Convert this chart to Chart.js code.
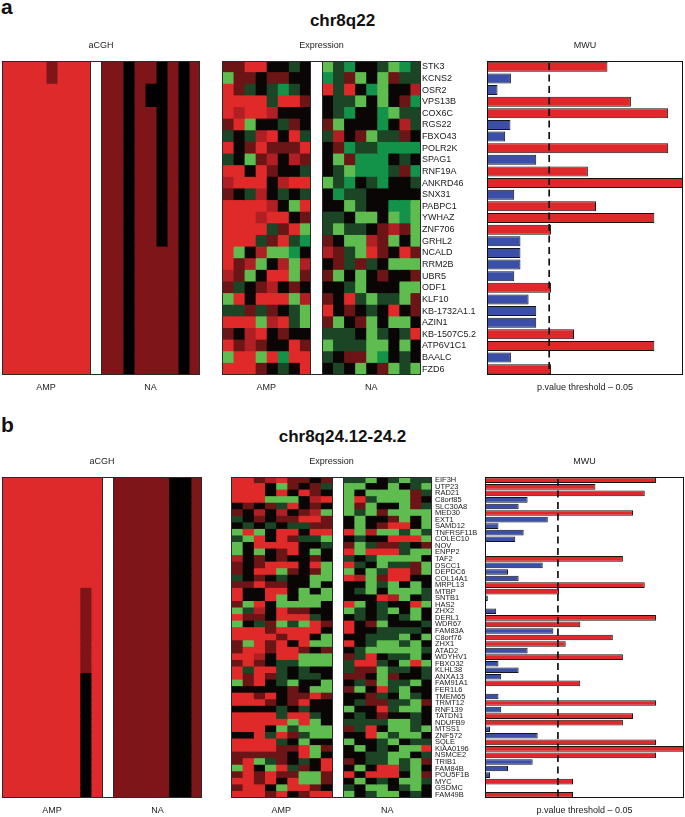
<!DOCTYPE html>
<html>
<head>
<meta charset="utf-8">
<script src="https://cdn.jsdelivr.net/npm/chart.js@4.4.1/dist/chart.umd.min.js"></script>
<style>
    body { margin: 0; background: #fff; font-family: "Liberation Sans", Arial, sans-serif; }
    #page { position: relative; width: 685px; height: 817px; overflow: hidden; }
    canvas, .txt { position: absolute; }
    .letter { font-weight: bold; font-size: 21px; line-height: 21px; color: #111; }
    .title { left: 0; width: 685px; text-align: center; font-weight: bold; font-size: 17px; line-height: 17px; color: #111; }
</style>
</head>
<body>
<div id="page">
    <div class="txt letter" style="left:1px; top:-4px;">a</div>
    <div class="txt title" style="top:12px;">chr8q22</div>
    <canvas id="cghA"></canvas>
    <canvas id="exprA"></canvas>
    <canvas id="mwuA"></canvas>

    <div class="txt letter" style="left:1px; top:414px;">b</div>
    <div class="txt title" style="top:428px;">chr8q24.12-24.2</div>
    <canvas id="cghB"></canvas>
    <canvas id="exprB"></canvas>
    <canvas id="mwuB"></canvas>
</div>

<script>
// ---------------- data ----------------
const groups = ['AMP', 'NA'];
const pThreshold = 0.05;

// panel a : chr8q22
const genesA = ['STK3', 'KCNS2', 'OSR2', 'VPS13B', 'COX6C', 'RGS22', 'FBXO43', 'POLR2K', 'SPAG1',
    'RNF19A', 'ANKRD46', 'SNX31', 'PABPC1', 'YWHAZ', 'ZNF706', 'GRHL2', 'NCALD', 'RRM2B', 'UBR5',
    'ODF1', 'KLF10', 'KB-1732A1.1', 'AZIN1', 'KB-1507C5.2', 'ATP6V1C1', 'BAALC', 'FZD6'];

// -log10(p) of the MWU test, one per gene
const mwuA = [2.52, 0.50, 0.22, 3.01, 3.79, 0.49, 0.38, 3.79, 1.03, 2.11, 4.10, 0.57, 2.28, 3.50,
    1.34, 0.70, 0.70, 0.70, 0.57, 1.34, 0.87, 1.03, 1.03, 1.82, 3.50, 0.50, 1.34];

// aCGH calls per sample (AMP samples | NA samples): R = amplified, d = gain, k = neutral
const cghA = [
    'RRRRdRRR|ddkddkdkd', 'RRRRdRRR|ddkddkdkd', 'RRRRRRRR|ddkdkkdkd', 'RRRRRRRR|ddkdkkdkd',
    'RRRRRRRR|ddkddkdkd', 'RRRRRRRR|ddkddkdkd', 'RRRRRRRR|ddkddkdkd', 'RRRRRRRR|ddkddkdkd',
    'RRRRRRRR|ddkddkdkd', 'RRRRRRRR|ddkddkdkd', 'RRRRRRRR|ddkddkdkd', 'RRRRRRRR|ddkddkdkd',
    'RRRRRRRR|ddkddkdkd', 'RRRRRRRR|ddkddkdkd', 'RRRRRRRR|ddkddkdkd', 'RRRRRRRR|ddkddkdkd',
    'RRRRRRRR|ddkddddkd', 'RRRRRRRR|ddkddddkd', 'RRRRRRRR|ddkddddkd', 'RRRRRRRR|ddkddddkd',
    'RRRRRRRR|ddkddddkd', 'RRRRRRRR|ddkddddkd', 'RRRRRRRR|ddkddddkd', 'RRRRRRRR|ddkddddkd',
    'RRRRRRRR|ddkddddkd', 'RRRRRRRR|ddkddddkd', 'RRRRRRRR|ddkddddkd'
];

// expression level per sample: R r d (up) k (0) e g G (down)
const exprA = [
    'ddRRkkek|GegkkeGge', 'Gddkddkk|gedGkGdee', 'Rdekegek|ReRkgGkkr', 'RRRReRRd|keeGkGkdg',
    'RrRRrkkk|kegkkgGee', 'dRGkkedk|dGkkkgkre', 'ekerRkRe|erkdGeedk', 'RkdRdddR|kdgeegggg',
    'ekGdrkrd|kGdgggkek', 'RRkRdkke|keGgggedg', 'rRRRkrRR|Gegkegkke', 'dkerkeke|kgeekkkkk',
    'RRRRrkGR|kkGekkggG', 'RRRrRRkd|eekGGkGgG', 'RRRRedRG|eGeekdrdG', 'RRRedReg|dkGGrdGkG',
    'RGkrGGgk|rdeGRdkRd', 'RdrGkrGr|kdedekGGG', 'rdGkRRGd|dGkGkdkkd', 'dekdrkdk|kkeGkkkGG',
    'GRkRRRGr|dkReGeeGd', 'eededkeG|RkdkekRkd', 'RRRGrReG|dGkdGkGGk', 'dkrRkdkk|eeekGekeR',
    'RdrdkkRd|GeeeGGkGk', 'GRRGRgRR|ekddGgkek', 'RRRdkekR|kekGkdGeG'
];

// panel b : chr8q24.12-24.2
const genesB = ['EIF3H', 'UTP23', 'RAD21', 'C8orf85', 'SLC30A8', 'MED30', 'EXT1', 'SAMD12', 'TNFRSF11B',
    'COLEC10', 'NOV', 'ENPP2', 'TAF2', 'DSCC1', 'DEPDC6', 'COL14A1', 'MRPL13', 'MTBP', 'SNTB1', 'HAS2',
    'ZHX2', 'DERL1', 'WDR67', 'FAM83A', 'C8orf76', 'ZHX1', 'ATAD2', 'WDYHV1', 'FBXO32', 'KLHL38',
    'ANXA13', 'FAM91A1', 'FER1L6', 'TMEM65', 'TRMT12', 'RNF139', 'TATDN1', 'NDUFB9', 'MTSS1', 'ZNF572',
    'SQLE', 'KIAA0196', 'NSMCE2', 'TRIB1', 'FAM84B', 'POU5F1B', 'MYC', 'GSDMC', 'FAM49B'];

const mwuB = [3.05, 1.97, 2.85, 0.76, 0.60, 2.64, 1.12, 0.24, 0.69, 0.54, 0.02, 0.02, 2.46, 1.03,
    0.41, 0.60, 2.85, 1.32, 0.05, 0.02, 0.20, 3.05, 1.70, 1.22, 2.28, 1.44, 0.76, 2.46, 0.24, 0.60,
    0.29, 1.70, 0.02, 0.24, 3.05, 0.29, 2.64, 2.46, 0.09, 0.94, 3.05, 3.55, 3.05, 0.85, 0.41, 0.09,
    1.57, 0, 1.57];

const cghB = [
    'RRRRRRRRR|dddddkkd', 'RRRRRRRRR|dddddkkd', 'RRRRRRRRR|dddddkkd', 'RRRRRRRRR|dddddkkd',
    'RRRRRRRRR|dddddkkd', 'RRRRRRRRR|dddddkkd', 'RRRRRRRRR|dddddkkd', 'RRRRRRRRR|dddddkkd',
    'RRRRRRRRR|dddddkkd', 'RRRRRRRRR|dddddkkd', 'RRRRRRRRR|dddddkkd', 'RRRRRRRRR|dddddkkd',
    'RRRRRRRRR|dddddkkd', 'RRRRRRRRR|dddddkkd', 'RRRRRRRRR|dddddkkd', 'RRRRRRRRR|dddddkkd',
    'RRRRRRRRR|dddddkkd', 'RRRRRRRdR|dddddkkd', 'RRRRRRRdR|dddddkkd', 'RRRRRRRdR|dddddkkd',
    'RRRRRRRdR|dddddkkd', 'RRRRRRRdR|dddddkkd', 'RRRRRRRdR|dddddkkd', 'RRRRRRRdR|dddddkkd',
    'RRRRRRRdR|dddddkkd', 'RRRRRRRdR|dddddkkd', 'RRRRRRRdR|dddddkkd', 'RRRRRRRdR|dddddkkd',
    'RRRRRRRdR|dddddkkd', 'RRRRRRRdR|dddddkkd', 'RRRRRRRkR|dddddkkd', 'RRRRRRRkR|dddddkkd',
    'RRRRRRRkR|dddddkkd', 'RRRRRRRkR|dddddkkd', 'RRRRRRRkR|dddddkkd', 'RRRRRRRkR|dddddkkd',
    'RRRRRRRkR|dddddkkd', 'RRRRRRRkR|dddddkkd', 'RRRRRRRkR|dddddkkd', 'RRRRRRRkR|dddddkkd',
    'RRRRRRRkR|dddddkkd', 'RRRRRRRkR|dddddkkd', 'RRRRRRRkR|dddddkkd', 'RRRRRRRkR|dddddkkd',
    'RRRRRRRkR|dddddkkd', 'RRRRRRRkR|dddddkkd', 'RRRRRRRkR|dddddkkd', 'RRRRRRRkR|dddddkkd',
    'RRRRRRRkR|dddddkkd'
];

const exprB = [
    'RRdrRddkd|eeGkeGee', 'RRRkGdkde|GGkkGkeG', 'RRRkRkRdk|GkGGGGde', 'RRRGGGkrR|GReGGGdk',
    'kdkdeRkdk|GdGkkGde', 'dkrkrkdrG|GeGdGGGG', 'ekdkddRRd|kGkkdGkG', 'kekekeedd|kGkdRRkG',
    'GRGkRRkRR|RGrGGeGe', 'eGRkRdeeG|kekkRRRG', 'GkRRRRkke|dGeddekd', 'GkGkdRkGk|RGRRReGG',
    'rkdkdkkdk|ekeGGGGk', 'dkdRRRkRG|RekGeedG', 'dkRRGdkdG|GkGeRRdG', 'ekdkekkGG|RrGdRRkk',
    'ddRddkkGk|kkGeGkGk', 'RkkRRkGkG|keGkGGGe', 'RkkRGkGGG|kkkRrGke', 'dGRkGGGGk|RGkekkRG',
    'GerkRddkk|GekeGkGk', 'RddkRRRek|kekekeGk', 'GkedGeGRd|RkdGkkke', 'RRRdRRRRk|Rkkeeeek',
    'RRRRdRRkG|kkeeeGkG', 'dGRdRkRGG|RkeGGeGk', 'dRRdRRdkd|keGGGGGe', 'RRrkRRGGG|deRkeeGk',
    'dRdkeeGGG|eRRekGRG', 'ReRRekekk|eddGeeke', 'RdRdekeek|ddkGdkke', 'GdRkeGkkG|kedGeeGk',
    'kkkkkdkGG|dGkReGkk', 'RRdRkddRd|kkdekGek', 'RRRdkdRkk|keddeeGd', 'kkkkekekk|GkkReGGk',
    'RRRReRRek|kekdkkek', 'RRRRRGRGk|eeeeGGek', 'RRRkGeGGG|deRkGGeG', 'kkReRdeGG|kkRGeGGk',
    'RRRRekGkk|GkkeGkee', 'RRRRddRGd|kGkekGGR', 'dddddkRGk|kkeeGGke', 'dRGedkekR|dkeeGeGd',
    'GRkGRedkR|kGkRReGk', 'dRdRddGGd|RkRRRkGd', 'RRdRkRGGd|kGkekGGe', 'dRRkGRRdk|ekGGkeGk',
    'RRRdRkdRR|GkeGGkek'
];

// ---------------- styles ----------------
Chart.defaults.font.family = '"Liberation Sans", Arial, sans-serif';
Chart.defaults.color = '#222';

const cghColors = { R: '#de2a2b', d: '#7e1518', k: '#000000', '|': '#ffffff' };
const exprColors = {
    R: '#e02a2a', r: '#b01f23', d: '#6c1517', k: '#0b0606',
    e: '#1c4526', g: '#13934a', G: '#5fbd50', '|': '#ffffff'
};
const RED = '#e0282b';
const BLUE = '#3b4fa8';

const TOP = 21;     // room for subplot title
const BOTTOM = 22;  // room for group labels / axis title

// box outline (+ lines on both sides of the white gap column)
const framePlugin = {
    id: 'frame',
    afterDraw(chart, args, opts) {
        const { ctx, chartArea: a } = chart;
        ctx.save();
        ctx.strokeStyle = opts.color || '#222';
        ctx.lineWidth = 1;
        ctx.strokeRect(Math.round(a.left) + 0.5, Math.round(a.top) + 0.5,
            Math.round(a.right - a.left) - 1, Math.round(a.bottom - a.top) - 1);
        if (opts.gap !== undefined) {
            const x = chart.scales.x;
            [opts.gap, opts.gap + 1].forEach(v => {
                const px = Math.round(x.getPixelForValue(v)) + 0.5;
                ctx.beginPath();
                ctx.moveTo(px, a.top);
                ctx.lineTo(px, a.bottom);
                ctx.stroke();
            });
        }
        ctx.restore();
    }
};

// dashed vertical line at the p-value threshold
const thresholdPlugin = {
    id: 'threshold',
    afterDatasetsDraw(chart, args, opts) {
        const { ctx, chartArea: a } = chart;
        const px = chart.scales.x.getPixelForValue(opts.value);
        ctx.save();
        ctx.strokeStyle = '#111';
        ctx.lineWidth = 1.7;
        ctx.setLineDash([7, 4.5]);
        ctx.beginPath();
        ctx.moveTo(px, a.top + 2);
        ctx.lineTo(px, a.bottom);
        ctx.stroke();
        ctx.restore();
    }
};

function place(id, left, top, w, h) {
    const c = document.getElementById(id);
    c.width = w;
    c.height = h;
    c.style.left = left + 'px';
    c.style.top = top + 'px';
    return c;
}

function topTitle(text) {
    return {
        position: 'top',
        type: 'linear',
        grid: { display: false, drawTicks: false },
        border: { display: false },
        ticks: { display: false },
        title: { display: true, text: text, color: '#222', font: { size: 9 }, padding: { top: 0, bottom: 0 } },
        afterFit: s => { s.height = TOP; }
    };
}

function heatmap(id, box, genes, rows, colors, title) {
    const nCols = rows[0].length;
    const gap = rows[0].indexOf('|');
    const datasets = [];
    for (let c = 0; c < nCols; c++) {
        datasets.push({
            data: genes.map(() => 1),
            backgroundColor: rows.map(r => colors[r[c]]),
            borderWidth: 0,
            inflateAmount: 0.5,
            barPercentage: 1,
            categoryPercentage: 1
        });
    }
    const canvas = place(id, box.x, box.y - TOP, box.w, box.h + TOP + BOTTOM);
    new Chart(canvas, {
        type: 'bar',
        data: { labels: genes, datasets: datasets },
        options: {
            indexAxis: 'y',
            responsive: false,
            animation: false,
            events: [],
            layout: { padding: 0 },
            plugins: {
                legend: { display: false },
                tooltip: { enabled: false },
                frame: { gap: gap, color: '#2a2a2a' }
            },
            scales: {
                y: { stacked: true, display: false },
                x: {
                    stacked: true,
                    min: 0,
                    max: nCols,
                    grid: { display: false, drawTicks: false },
                    border: { display: false },
                    afterBuildTicks: s => {
                        s.ticks = [{ value: gap / 2 }, { value: gap + 1 + (nCols - gap - 1) / 2 }];
                    },
                    ticks: {
                        autoSkip: false,
                        maxRotation: 0,
                        padding: 7,
                        font: { size: 9 },
                        callback: (v) => v < gap ? groups[0] : groups[1]
                    },
                    afterFit: s => { s.height = BOTTOM; }
                },
                xt: topTitle(title)
            }
        },
        plugins: [framePlugin]
    });
}

function mwu(id, box, labelW, genes, values, labelSize) {
    const cut = -Math.log10(pThreshold);
    const canvas = place(id, box.x - labelW, box.y - TOP, box.w + labelW, box.h + TOP + BOTTOM);
    new Chart(canvas, {
        type: 'bar',
        data: {
            labels: genes,
            datasets: [{
                data: values,
                backgroundColor: values.map(v => v > cut ? RED : BLUE),
                borderColor: '#151515',
                borderWidth: 1,
                borderSkipped: false,
                inflateAmount: 0,
                barPercentage: 0.86,
                categoryPercentage: 1
            }]
        },
        options: {
            indexAxis: 'y',
            responsive: false,
            animation: false,
            events: [],
            layout: { padding: 0 },
            plugins: {
                legend: { display: false },
                tooltip: { enabled: false },
                frame: { color: '#111' },
                threshold: { value: cut }
            },
            scales: {
                y: {
                    grid: { display: false, drawTicks: false },
                    border: { display: false },
                    ticks: { autoSkip: false, crossAlign: 'far', padding: 0, color: '#1a1a1a', font: { size: labelSize } },
                    afterFit: s => { s.width = labelW; }
                },
                x: {
                    min: 0,
                    max: Math.max(...values),
                    grid: { display: false, drawTicks: false },
                    border: { display: false },
                    ticks: { display: false },
                    title: {
                        display: true,
                        text: 'p.value threshold \u2013 ' + pThreshold,
                        color: '#222',
                        font: { size: 9 },
                        padding: { top: 0, bottom: 4 }
                    },
                    afterFit: s => { s.height = BOTTOM; }
                },
                xt: topTitle('MWU')
            }
        },
        plugins: [framePlugin, thresholdPlugin]
    });
}

// ---------------- charts ----------------
heatmap('cghA', { x: 2, y: 61, w: 198, h: 314 }, genesA, cghA, cghColors, 'aCGH');
heatmap('exprA', { x: 222, y: 61, w: 199, h: 314 }, genesA, exprA, exprColors, 'Expression');
mwu('mwuA', { x: 487, y: 61, w: 196, h: 314 }, 65, genesA, mwuA, 9);

heatmap('cghB', { x: 2, y: 477, w: 200, h: 321 }, genesB, cghB, cghColors, 'aCGH');
heatmap('exprB', { x: 231, y: 477, w: 201, h: 321 }, genesB, exprB, exprColors, 'Expression');
mwu('mwuB', { x: 485, y: 477, w: 199, h: 321 }, 50, genesB, mwuB, 7.5);
</script>
</body>
</html>
